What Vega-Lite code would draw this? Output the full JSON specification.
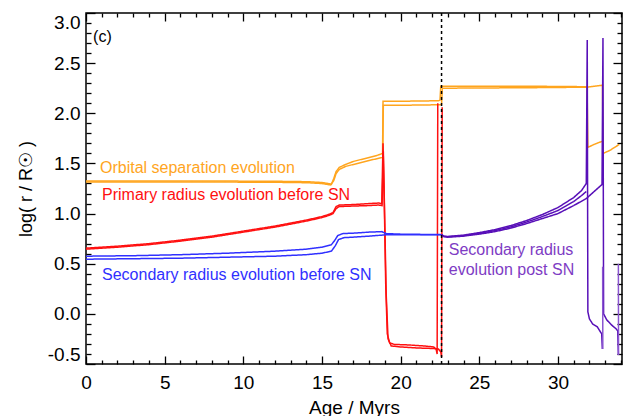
{
  "$schema": "https://vega.github.io/schema/vega-lite/v6.json",
  "width": 536,
  "height": 351,
  "autosize": "none",
  "padding": {"left": 86, "top": 13, "right": 6, "bottom": 52},
  "background": "white",
  "config": {
    "view": {"stroke": "black", "strokeWidth": 1.5},
    "font": "Liberation Sans",
    "axis": {
      "labelFont": "Liberation Sans",
      "titleFont": "Liberation Sans",
      "titleFontWeight": "normal",
      "labelColor": "black",
      "titleColor": "black",
      "tickColor": "black",
      "tickWidth": 1.3,
      "ticks": true,
      "domain": false,
      "grid": false,
      "labelOverlap": false,
      "labelFlush": false,
      "labelBound": false
    }
  },
  "datasets": {
    "lines": [
      {"s": "orbA", "c": "orb", "x": 0, "y": 1.325},
      {"s": "orbA", "c": "orb", "x": 3, "y": 1.325},
      {"s": "orbA", "c": "orb", "x": 6, "y": 1.325},
      {"s": "orbA", "c": "orb", "x": 9, "y": 1.324},
      {"s": "orbA", "c": "orb", "x": 12, "y": 1.322},
      {"s": "orbA", "c": "orb", "x": 14, "y": 1.318},
      {"s": "orbA", "c": "orb", "x": 15, "y": 1.31},
      {"s": "orbA", "c": "orb", "x": 15.5, "y": 1.297},
      {"s": "orbA", "c": "orb", "x": 15.6, "y": 1.292},
      {"s": "orbA", "c": "orb", "x": 15.75, "y": 1.35},
      {"s": "orbA", "c": "orb", "x": 15.9, "y": 1.42},
      {"s": "orbA", "c": "orb", "x": 16.1, "y": 1.46},
      {"s": "orbA", "c": "orb", "x": 16.5, "y": 1.49},
      {"s": "orbA", "c": "orb", "x": 17, "y": 1.52},
      {"s": "orbA", "c": "orb", "x": 17.5, "y": 1.54},
      {"s": "orbA", "c": "orb", "x": 18, "y": 1.56},
      {"s": "orbA", "c": "orb", "x": 18.5, "y": 1.58},
      {"s": "orbA", "c": "orb", "x": 18.85, "y": 1.6},
      {"s": "orbA", "c": "orb", "x": 18.88, "y": 2.12},
      {"s": "orbA", "c": "orb", "x": 20, "y": 2.12},
      {"s": "orbA", "c": "orb", "x": 22.4, "y": 2.125},
      {"s": "orbA", "c": "orb", "x": 22.5, "y": 2.13},
      {"s": "orbA", "c": "orb", "x": 22.55, "y": 2.27},
      {"s": "orbA", "c": "orb", "x": 25, "y": 2.27},
      {"s": "orbA", "c": "orb", "x": 28, "y": 2.27},
      {"s": "orbA", "c": "orb", "x": 31.85, "y": 2.265},
      {"s": "orbA", "c": "orb", "x": 31.9, "y": 1.66},
      {"s": "orbA", "c": "orb", "x": 32.3, "y": 1.69},
      {"s": "orbA", "c": "orb", "x": 32.8, "y": 1.72},
      {"s": "orbB", "c": "orb", "x": 0, "y": 1.315},
      {"s": "orbB", "c": "orb", "x": 3, "y": 1.315},
      {"s": "orbB", "c": "orb", "x": 6, "y": 1.315},
      {"s": "orbB", "c": "orb", "x": 9, "y": 1.314},
      {"s": "orbB", "c": "orb", "x": 12, "y": 1.312},
      {"s": "orbB", "c": "orb", "x": 14, "y": 1.308},
      {"s": "orbB", "c": "orb", "x": 15, "y": 1.3},
      {"s": "orbB", "c": "orb", "x": 15.55, "y": 1.285},
      {"s": "orbB", "c": "orb", "x": 15.75, "y": 1.33},
      {"s": "orbB", "c": "orb", "x": 15.9, "y": 1.4},
      {"s": "orbB", "c": "orb", "x": 16.1, "y": 1.44},
      {"s": "orbB", "c": "orb", "x": 16.5, "y": 1.47},
      {"s": "orbB", "c": "orb", "x": 17, "y": 1.49},
      {"s": "orbB", "c": "orb", "x": 18, "y": 1.53},
      {"s": "orbB", "c": "orb", "x": 18.86, "y": 1.56},
      {"s": "orbB", "c": "orb", "x": 18.9, "y": 2.08},
      {"s": "orbB", "c": "orb", "x": 20, "y": 2.08},
      {"s": "orbB", "c": "orb", "x": 22.5, "y": 2.085},
      {"s": "orbB", "c": "orb", "x": 22.6, "y": 2.09},
      {"s": "orbB", "c": "orb", "x": 22.65, "y": 2.25},
      {"s": "orbB", "c": "orb", "x": 28, "y": 2.255},
      {"s": "orbB", "c": "orb", "x": 31.8, "y": 2.26},
      {"s": "orbB", "c": "orb", "x": 32.3, "y": 2.27},
      {"s": "orbB", "c": "orb", "x": 32.83, "y": 2.28},
      {"s": "orbB", "c": "orb", "x": 32.87, "y": 1.6},
      {"s": "orbB", "c": "orb", "x": 33.3, "y": 1.63},
      {"s": "orbB", "c": "orb", "x": 33.9, "y": 1.69},
      {"s": "priA", "c": "pri", "x": 0, "y": 0.655},
      {"s": "priA", "c": "pri", "x": 2, "y": 0.675},
      {"s": "priA", "c": "pri", "x": 4, "y": 0.7},
      {"s": "priA", "c": "pri", "x": 6, "y": 0.735},
      {"s": "priA", "c": "pri", "x": 8, "y": 0.775},
      {"s": "priA", "c": "pri", "x": 10, "y": 0.825},
      {"s": "priA", "c": "pri", "x": 11, "y": 0.85},
      {"s": "priA", "c": "pri", "x": 12, "y": 0.875},
      {"s": "priA", "c": "pri", "x": 13, "y": 0.905},
      {"s": "priA", "c": "pri", "x": 14, "y": 0.935},
      {"s": "priA", "c": "pri", "x": 15, "y": 0.97},
      {"s": "priA", "c": "pri", "x": 15.5, "y": 0.995},
      {"s": "priA", "c": "pri", "x": 15.7, "y": 1.01},
      {"s": "priA", "c": "pri", "x": 15.9, "y": 1.07},
      {"s": "priA", "c": "pri", "x": 16.1, "y": 1.085},
      {"s": "priA", "c": "pri", "x": 17, "y": 1.09},
      {"s": "priA", "c": "pri", "x": 18, "y": 1.1},
      {"s": "priA", "c": "pri", "x": 18.6, "y": 1.105},
      {"s": "priA", "c": "pri", "x": 18.8, "y": 1.1},
      {"s": "priA", "c": "pri", "x": 18.88, "y": 1.7},
      {"s": "priA", "c": "pri", "x": 18.95, "y": 1.2},
      {"s": "priA", "c": "pri", "x": 19.05, "y": 0.3},
      {"s": "priA", "c": "pri", "x": 19.15, "y": -0.2},
      {"s": "priA", "c": "pri", "x": 19.3, "y": -0.29},
      {"s": "priA", "c": "pri", "x": 19.6, "y": -0.305},
      {"s": "priA", "c": "pri", "x": 20.5, "y": -0.31},
      {"s": "priA", "c": "pri", "x": 21.5, "y": -0.32},
      {"s": "priA", "c": "pri", "x": 22.1, "y": -0.33},
      {"s": "priA", "c": "pri", "x": 22.25, "y": -0.35},
      {"s": "priA", "c": "pri", "x": 22.32, "y": -0.4},
      {"s": "priA", "c": "pri", "x": 22.36, "y": 2.1},
      {"s": "priB", "c": "pri", "x": 0, "y": 0.645},
      {"s": "priB", "c": "pri", "x": 2, "y": 0.665},
      {"s": "priB", "c": "pri", "x": 4, "y": 0.69},
      {"s": "priB", "c": "pri", "x": 6, "y": 0.725},
      {"s": "priB", "c": "pri", "x": 8, "y": 0.765},
      {"s": "priB", "c": "pri", "x": 10, "y": 0.815},
      {"s": "priB", "c": "pri", "x": 12, "y": 0.865},
      {"s": "priB", "c": "pri", "x": 14, "y": 0.925},
      {"s": "priB", "c": "pri", "x": 15, "y": 0.96},
      {"s": "priB", "c": "pri", "x": 15.5, "y": 0.985},
      {"s": "priB", "c": "pri", "x": 15.7, "y": 1.0},
      {"s": "priB", "c": "pri", "x": 15.9, "y": 1.05},
      {"s": "priB", "c": "pri", "x": 16.1, "y": 1.07},
      {"s": "priB", "c": "pri", "x": 17, "y": 1.075},
      {"s": "priB", "c": "pri", "x": 18, "y": 1.08},
      {"s": "priB", "c": "pri", "x": 18.6, "y": 1.085},
      {"s": "priB", "c": "pri", "x": 18.82, "y": 1.08},
      {"s": "priB", "c": "pri", "x": 18.9, "y": 1.62},
      {"s": "priB", "c": "pri", "x": 18.98, "y": 1.0},
      {"s": "priB", "c": "pri", "x": 19.08, "y": 0.2},
      {"s": "priB", "c": "pri", "x": 19.2, "y": -0.25},
      {"s": "priB", "c": "pri", "x": 19.4, "y": -0.32},
      {"s": "priB", "c": "pri", "x": 20, "y": -0.33},
      {"s": "priB", "c": "pri", "x": 21, "y": -0.34},
      {"s": "priB", "c": "pri", "x": 22, "y": -0.345},
      {"s": "priB", "c": "pri", "x": 22.4, "y": -0.35},
      {"s": "priB", "c": "pri", "x": 22.55, "y": -0.38},
      {"s": "priB", "c": "pri", "x": 22.6, "y": -0.43},
      {"s": "priB", "c": "pri", "x": 22.64, "y": 2.06},
      {"s": "secA", "c": "sec", "x": 0, "y": 0.575},
      {"s": "secA", "c": "sec", "x": 3, "y": 0.58},
      {"s": "secA", "c": "sec", "x": 6, "y": 0.59},
      {"s": "secA", "c": "sec", "x": 9, "y": 0.605},
      {"s": "secA", "c": "sec", "x": 12, "y": 0.625},
      {"s": "secA", "c": "sec", "x": 14, "y": 0.645},
      {"s": "secA", "c": "sec", "x": 15, "y": 0.665},
      {"s": "secA", "c": "sec", "x": 15.6, "y": 0.69},
      {"s": "secA", "c": "sec", "x": 15.8, "y": 0.73},
      {"s": "secA", "c": "sec", "x": 16.0, "y": 0.78},
      {"s": "secA", "c": "sec", "x": 16.3, "y": 0.8},
      {"s": "secA", "c": "sec", "x": 17, "y": 0.805},
      {"s": "secA", "c": "sec", "x": 18, "y": 0.815},
      {"s": "secA", "c": "sec", "x": 18.8, "y": 0.82},
      {"s": "secA", "c": "sec", "x": 19.1, "y": 0.8},
      {"s": "secA", "c": "sec", "x": 20, "y": 0.795},
      {"s": "secA", "c": "sec", "x": 22.6, "y": 0.79},
      {"s": "secB", "c": "sec", "x": 0, "y": 0.545},
      {"s": "secB", "c": "sec", "x": 3, "y": 0.55},
      {"s": "secB", "c": "sec", "x": 6, "y": 0.555},
      {"s": "secB", "c": "sec", "x": 9, "y": 0.565},
      {"s": "secB", "c": "sec", "x": 12, "y": 0.575},
      {"s": "secB", "c": "sec", "x": 14, "y": 0.59},
      {"s": "secB", "c": "sec", "x": 15, "y": 0.605},
      {"s": "secB", "c": "sec", "x": 15.6, "y": 0.625},
      {"s": "secB", "c": "sec", "x": 15.85, "y": 0.68},
      {"s": "secB", "c": "sec", "x": 16.05, "y": 0.74},
      {"s": "secB", "c": "sec", "x": 16.4, "y": 0.76},
      {"s": "secB", "c": "sec", "x": 17, "y": 0.765},
      {"s": "secB", "c": "sec", "x": 18, "y": 0.775},
      {"s": "secB", "c": "sec", "x": 18.8, "y": 0.785},
      {"s": "secB", "c": "sec", "x": 19.1, "y": 0.79},
      {"s": "secB", "c": "sec", "x": 22.6, "y": 0.79},
      {"s": "postA", "c": "post", "x": 22.6, "y": 0.79},
      {"s": "postA", "c": "post", "x": 22.75, "y": 0.775},
      {"s": "postA", "c": "post", "x": 23, "y": 0.772},
      {"s": "postA", "c": "post", "x": 24, "y": 0.785},
      {"s": "postA", "c": "post", "x": 25, "y": 0.81},
      {"s": "postA", "c": "post", "x": 26, "y": 0.84},
      {"s": "postA", "c": "post", "x": 27, "y": 0.88},
      {"s": "postA", "c": "post", "x": 28, "y": 0.93},
      {"s": "postA", "c": "post", "x": 29, "y": 0.99},
      {"s": "postA", "c": "post", "x": 30, "y": 1.06},
      {"s": "postA", "c": "post", "x": 30.5, "y": 1.11},
      {"s": "postA", "c": "post", "x": 31, "y": 1.16},
      {"s": "postA", "c": "post", "x": 31.5, "y": 1.23},
      {"s": "postA", "c": "post", "x": 31.8, "y": 1.3},
      {"s": "postA", "c": "post", "x": 31.86, "y": 2.73},
      {"s": "postA", "c": "post", "x": 31.9, "y": 0.02},
      {"s": "postA", "c": "post", "x": 32.0, "y": -0.05},
      {"s": "postA", "c": "post", "x": 32.2, "y": -0.1},
      {"s": "postA", "c": "post", "x": 32.5, "y": -0.13},
      {"s": "postA", "c": "post", "x": 32.78, "y": -0.2},
      {"s": "postA", "c": "post", "x": 32.82, "y": -0.35},
      {"s": "postC", "c": "post", "x": 22.6, "y": 0.79},
      {"s": "postC", "c": "post", "x": 22.75, "y": 0.772},
      {"s": "postC", "c": "post", "x": 23, "y": 0.768},
      {"s": "postC", "c": "post", "x": 24, "y": 0.78},
      {"s": "postC", "c": "post", "x": 25, "y": 0.802},
      {"s": "postC", "c": "post", "x": 26, "y": 0.83},
      {"s": "postC", "c": "post", "x": 27, "y": 0.867},
      {"s": "postC", "c": "post", "x": 28, "y": 0.915},
      {"s": "postC", "c": "post", "x": 29, "y": 0.97},
      {"s": "postC", "c": "post", "x": 30, "y": 1.03},
      {"s": "postC", "c": "post", "x": 30.5, "y": 1.075},
      {"s": "postC", "c": "post", "x": 31, "y": 1.12},
      {"s": "postC", "c": "post", "x": 31.5, "y": 1.18},
      {"s": "postC", "c": "post", "x": 31.8, "y": 1.22},
      {"s": "postB", "c": "post", "x": 22.6, "y": 0.79},
      {"s": "postB", "c": "post", "x": 22.75, "y": 0.77},
      {"s": "postB", "c": "post", "x": 23, "y": 0.765},
      {"s": "postB", "c": "post", "x": 24, "y": 0.775},
      {"s": "postB", "c": "post", "x": 25, "y": 0.795},
      {"s": "postB", "c": "post", "x": 26, "y": 0.82},
      {"s": "postB", "c": "post", "x": 27, "y": 0.855},
      {"s": "postB", "c": "post", "x": 28, "y": 0.9},
      {"s": "postB", "c": "post", "x": 29, "y": 0.95},
      {"s": "postB", "c": "post", "x": 30, "y": 1.0},
      {"s": "postB", "c": "post", "x": 31, "y": 1.08},
      {"s": "postB", "c": "post", "x": 31.8, "y": 1.15},
      {"s": "postB", "c": "post", "x": 32.3, "y": 1.22},
      {"s": "postB", "c": "post", "x": 32.8, "y": 1.29},
      {"s": "postB", "c": "post", "x": 32.86, "y": 2.75},
      {"s": "postB", "c": "post", "x": 32.9, "y": 0.0},
      {"s": "postB", "c": "post", "x": 33.1, "y": -0.06},
      {"s": "postB", "c": "post", "x": 33.4, "y": -0.11},
      {"s": "postB", "c": "post", "x": 33.7, "y": -0.15},
      {"s": "postB", "c": "post", "x": 33.8, "y": -0.17},
      {"s": "postB", "c": "post", "x": 33.84, "y": -0.41},
      {"s": "postD", "c": "post2", "x": 32.84, "y": 0.47},
      {"s": "postD", "c": "post2", "x": 32.85, "y": -0.35},
      {"s": "postE", "c": "post2", "x": 33.84, "y": 0.5},
      {"s": "postE", "c": "post2", "x": 33.85, "y": -0.41},
      {"s": "sn", "c": "sn", "x": 22.6, "y": -0.5},
      {"s": "sn", "c": "sn", "x": 22.6001, "y": 3.0}
    ],
    "notes": [
      {"t": "Orbital separation evolution", "c": "orb", "x": 0.89, "y": 1.455},
      {"t": "Primary radius evolution before SN", "c": "pri", "x": 1.02, "y": 1.19},
      {"t": "Secondary radius evolution before SN", "c": "sec", "x": 1.02, "y": 0.39},
      {"t": "Secondary radius", "c": "txtpost", "x": 23.06, "y": 0.64},
      {"t": "evolution post SN", "c": "txtpost", "x": 23.06, "y": 0.44},
      {"t": "(c)", "c": "txtc", "x": 0.45, "y": 2.76}
    ]
  },
  "layer": [
    {
      "data": {"name": "lines"},
      "mark": {"type": "line"},
      "encoding": {
        "x": {
          "field": "x", "type": "quantitative",
          "scale": {"domain": [0, 34.07], "nice": false, "zero": false},
          "axis": {
            "orient": "bottom",
            "title": "Age / Myrs",
            "titleFontSize": 19,
            "titlePadding": 2,
            "labelFontSize": 19,
            "labelPadding": 17,
            "values": [0,1,2,3,4,5,6,7,8,9,10,11,12,13,14,15,16,17,18,19,20,21,22,23,24,25,26,27,28,29,30,31,32,33,34],
            "labelExpr": "datum.value % 5 === 0 ? datum.label : ''",
            "tickSize": {"condition": {"test": "datum.value % 5 === 0", "value": -8}, "value": -4}
          }
        },
        "y": {
          "field": "y", "type": "quantitative",
          "scale": {"domain": [-0.5, 3.0], "nice": false, "zero": false},
          "axis": {
            "orient": "left",
            "title": "log( r / R☉ )",
            "titleFontSize": 18,
            "titlePadding": 12,
            "labelFontSize": 19,
            "labelPadding": 15,
            "labelFlush": true,
            "values": [-0.5,-0.4,-0.3,-0.2,-0.1,0,0.1,0.2,0.3,0.4,0.5,0.6,0.7,0.8,0.9,1.0,1.1,1.2,1.3,1.4,1.5,1.6,1.7,1.8,1.9,2.0,2.1,2.2,2.3,2.4,2.5,2.6,2.7,2.8,2.9,3.0],
            "labelExpr": "abs(datum.value*2 - round(datum.value*2)) < 0.001 ? (datum.value < 0 ? '-' : '') + format(abs(datum.value), '.1f') : ''",
            "tickSize": {"condition": {"test": "abs(datum.value*2 - round(datum.value*2)) < 0.001", "value": -9}, "value": -5}
          }
        },
        "color": {
          "field": "c", "type": "nominal",
          "scale": {"domain": ["orb", "pri", "sec", "post", "post2", "txtpost", "sn", "txtc"], "range": ["#FFA51E", "#FF1010", "#3030FF", "#5810B8", "#8A55D0", "#7E3CC4", "#000000", "#000000"]},
          "legend": null
        },
        "strokeDash": {
          "field": "c", "type": "nominal",
          "scale": {"domain": ["orb", "pri", "sec", "post", "post2", "sn"], "range": [[1, 0], [1, 0], [1, 0], [1, 0], [1, 0], [3, 3]]},
          "legend": null
        },
        "strokeWidth": {
          "field": "c", "type": "nominal",
          "scale": {"domain": ["orb", "pri", "sec", "post", "post2", "sn"], "range": [1.5, 1.5, 1.5, 1.5, 1.5, 2]},
          "legend": null
        },
        "detail": {"field": "s"}
      }
    },
    {
      "data": {"name": "notes"},
      "mark": {"type": "text", "align": "left", "baseline": "middle", "font": "Liberation Sans"},
      "encoding": {
        "x": {
          "field": "x", "type": "quantitative",
          "scale": {"domain": [0, 34.07], "nice": false, "zero": false},
          "axis": {
            "orient": "top", "title": null, "labels": false,
            "values": [0,1,2,3,4,5,6,7,8,9,10,11,12,13,14,15,16,17,18,19,20,21,22,23,24,25,26,27,28,29,30,31,32,33,34],
            "tickSize": {"condition": {"test": "datum.value % 5 === 0", "value": -8}, "value": -4}
          }
        },
        "y": {
          "field": "y", "type": "quantitative",
          "scale": {"domain": [-0.5, 3.0], "nice": false, "zero": false},
          "axis": {
            "orient": "right", "title": null, "labels": false,
            "values": [-0.5,-0.4,-0.3,-0.2,-0.1,0,0.1,0.2,0.3,0.4,0.5,0.6,0.7,0.8,0.9,1.0,1.1,1.2,1.3,1.4,1.5,1.6,1.7,1.8,1.9,2.0,2.1,2.2,2.3,2.4,2.5,2.6,2.7,2.8,2.9,3.0],
            "tickSize": {"condition": {"test": "abs(datum.value*2 - round(datum.value*2)) < 0.001", "value": -9}, "value": -5}
          }
        },
        "color": {"field": "c", "type": "nominal", "legend": null},
        "size": {
          "field": "c", "type": "ordinal",
          "scale": {"domain": ["orb", "pri", "sec", "txtpost", "txtc"], "range": [16, 16, 16, 16, 20]},
          "legend": null
        },
        "text": {"field": "t"}
      }
    }
  ],
  "resolve": {"axis": {"x": "independent", "y": "independent"}}
}
